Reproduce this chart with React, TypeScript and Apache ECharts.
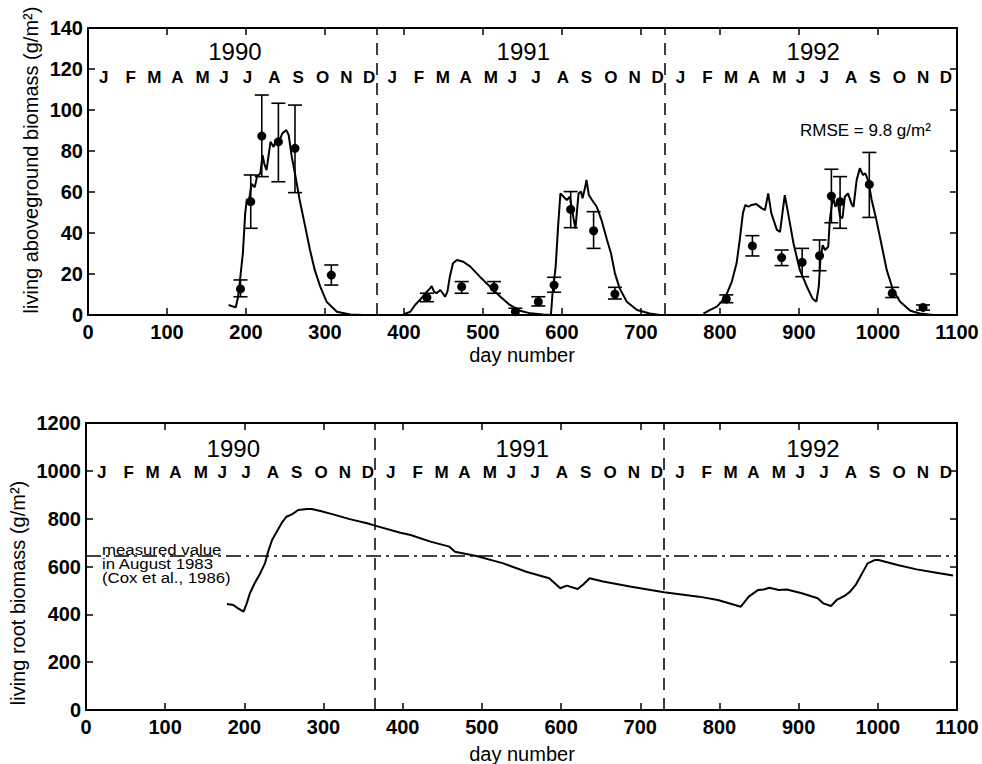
import React, { useEffect, useRef } from "react";
import * as echarts from "echarts";

const FONT = "'Liberation Sans', Arial, Helvetica, sans-serif";

// ---- calendar annotations ----
const MONTH_LETTERS = ["J", "F", "M", "A", "M", "J", "J", "A", "S", "O", "N", "D"];
const MONTH_DAY_IN_YEAR = [20, 54, 84, 113, 145, 172, 202, 236, 266, 297, 327, 356];
const YEAR_LABELS = ["1990", "1991", "1992"];
const YEAR_START_DAYS = [0, 365, 730];
const YEAR_LABEL_DAYS = [186, 551, 918];
const YEAR_BOUNDARY_DAYS = [365, 730];

// ---- aboveground biomass: model (day, g/m2) ----
const MODEL_AG_1990 = [
  [178, 4.9], [187, 3.7], [190, 8.9], [192, 15.5], [196, 30], [199, 49.6], [201, 56.4], [204, 56.3],
  [207, 64], [211, 62.3], [214, 67.5], [218, 69], [221, 78], [223, 74], [226, 70.7], [231, 84.5],
  [235, 82], [238, 85.4], [241, 83.7], [246, 88.6], [251, 90.2], [254, 87.8], [258, 77], [262, 69],
  [268, 56], [275, 43], [281, 31.7], [287, 22], [294, 13.8], [302, 6.5], [315, 1.6], [332, 0.2], [348, 0],
];
const MODEL_AG_1991 = [
  [399, 0.3], [408, 1.6], [414, 4.9], [420, 7.3], [427, 10.6], [433, 13], [435, 14.1], [438, 11.4],
  [441, 10.6], [446, 12.2], [449, 10.6], [452, 8.9], [455, 11.4], [458, 18.7], [462, 25.2], [467, 26.8],
  [475, 26], [484, 23.6], [496, 18.7], [509, 13.8], [522, 8.9], [534, 4.9], [547, 2.1], [560, 0.8],
  [576, 0.2], [586, 0], [588, 10.6], [592, 23.6], [595, 43], [598, 59.3], [602, 57.7], [606, 56.1],
  [610, 57.7], [615, 46.3], [617, 42.3], [621, 59.3], [624, 60.2], [626, 56.9], [629, 61.8], [631, 65.9],
  [634, 58.5], [638, 56.1], [644, 52.8], [650, 46.3], [657, 36.6], [662, 30.1], [667, 20.3], [673, 13],
  [682, 6.5], [695, 2.4], [711, 0.7], [724, 0],
];
const MODEL_AG_1992 = [
  [779, 0.7], [787, 2.4], [796, 4.1], [802, 6.5], [808, 9.8], [815, 16.3], [821, 25.2], [825, 36.6],
  [829, 49.6], [832, 53.7], [836, 52.8], [840, 53.7], [846, 54.1], [853, 52], [857, 51.2], [861, 59.3],
  [865, 49.6], [872, 41.5], [876, 40.6], [879, 49.6], [882, 58.5], [887, 48], [893, 35], [901, 22],
  [910, 13.8], [917, 8.1], [922, 6.5], [925, 13.8], [927, 26.8], [930, 34.1], [933, 31.7], [937, 33.3],
  [939, 46.3], [943, 57.7], [946, 52.8], [949, 55.3], [952, 48], [955, 47.2], [958, 57.7], [962, 59.3],
  [967, 53.7], [969, 52.8], [973, 65.9], [977, 71.6], [981, 68.3], [984, 69.1], [988, 65], [992, 56.1],
  [998, 46.3], [1005, 33.3], [1011, 22], [1019, 12.2], [1028, 6.5], [1041, 2.1], [1053, 0.7], [1070, 0],
];

// ---- aboveground biomass: observations ----
const OBS_DAY = [193, 206, 220, 241, 262, 308, 429, 473, 514, 541, 570, 590, 611, 640, 667, 808, 841, 878, 904, 926, 941, 952, 989, 1018, 1057];
const OBS_MEAN = [12.7, 55.3, 87.3, 84.5, 81.3, 19.5, 8.5, 13.8, 13.5, 1.6, 6.5, 14.6, 51.5, 41.1, 10.2, 7.8, 33.7, 28, 25.7, 28.9, 58, 55.3, 63.7, 10.6, 3.7];
const OBS_LOW = [8.9, 42.3, 67.5, 65, 59.7, 14.6, 6.5, 10.6, 10.6, 0, 4.4, 11.1, 42.6, 32.5, 7.8, 6, 28.8, 24.1, 18.7, 21.6, 45, 42.3, 47.6, 8.5, 2.4];
const OBS_HIGH = [17.1, 68.3, 107.3, 103.3, 102.4, 24.4, 10.6, 16.3, 16.3, 3.3, 8.9, 18.4, 60.2, 50.4, 13.5, 9.8, 38.7, 31.7, 32.5, 36.6, 71.1, 67.5, 79.3, 13.5, 4.9];

// ---- root biomass: model ----
const MODEL_ROOT = [
  [178, 443], [186, 439], [192, 425], [199, 411], [203, 446], [207, 488], [213, 530], [220, 571],
  [226, 613], [230, 662], [235, 711], [241, 746], [247, 781], [253, 808], [258, 815], [262, 822],
  [268, 836], [279, 840], [285, 840], [296, 832], [312, 818], [333, 798], [355, 781], [365, 771],
  [397, 741], [410, 732], [435, 704], [459, 683], [466, 662], [493, 644], [527, 613], [556, 578],
  [585, 551], [599, 509], [607, 520], [621, 506], [628, 525], [636, 551], [653, 537], [687, 516],
  [730, 492], [774, 474], [798, 460], [827, 432], [837, 474], [849, 502], [856, 504], [863, 511],
  [875, 502], [885, 504], [904, 488], [924, 467], [931, 446], [941, 435], [948, 460], [958, 477],
  [965, 495], [972, 523], [979, 564], [987, 613], [996, 627], [1001, 627], [1025, 606], [1049, 588],
  [1074, 574], [1095, 562],
];
const MEASURED_ROOT_1983 = 645;
const MEASURED_NOTE = "measured value\nin August 1983\n(Cox et al., 1986)";
const RMSE_TEXT = "RMSE = 9.8 g/m²";

const plainNumber = (v: number) => String(v);

function xAxis(gridIndex: number, position: string, showLabel: boolean) {
  return {
    type: "value",
    gridIndex,
    position,
    min: 0,
    max: 1100,
    interval: 100,
    axisLine: { show: true, onZero: false, lineStyle: { color: "#000", width: 2 } },
    axisTick: { show: true, inside: true, length: 7, lineStyle: { color: "#000", width: 1.5 } },
    axisLabel: {
      show: showLabel, color: "#000", fontSize: 20, fontWeight: "bold", fontFamily: FONT, margin: 7,
      hideOverlap: false, formatter: plainNumber,
    },
    splitLine: { show: false },
  };
}

function yAxis(gridIndex: number, position: string, showLabel: boolean, max: number, interval: number) {
  return {
    type: "value",
    gridIndex,
    position,
    min: 0,
    max,
    interval,
    axisLine: { show: true, onZero: false, lineStyle: { color: "#000", width: 2 } },
    axisTick: { show: true, inside: true, length: 7, lineStyle: { color: "#000", width: 1.5 } },
    axisLabel: {
      show: showLabel, color: "#000", fontSize: 20, fontWeight: "bold", fontFamily: FONT, margin: 5,
      hideOverlap: false, formatter: plainNumber,
    },
    splitLine: { show: false },
  };
}

function monthLabelSeries(xi: number, yi: number, yLevel: number) {
  const data: any[] = [];
  YEAR_START_DAYS.forEach((start) => {
    MONTH_DAY_IN_YEAR.forEach((d, i) => {
      data.push({ value: [start + d, yLevel], name: MONTH_LETTERS[i] });
    });
  });
  return {
    type: "scatter",
    xAxisIndex: xi,
    yAxisIndex: yi,
    symbolSize: 0,
    silent: true,
    z: 5,
    itemStyle: { color: "rgba(0,0,0,0)", opacity: 1 },
    label: {
      show: true, position: "inside", formatter: "{b}", color: "#000",
      fontSize: 17, fontWeight: "bold", fontFamily: FONT,
    },
    data,
  };
}

function yearLabelSeries(xi: number, yi: number, yLevel: number) {
  return {
    type: "scatter",
    xAxisIndex: xi,
    yAxisIndex: yi,
    symbolSize: 0,
    silent: true,
    z: 5,
    itemStyle: { color: "rgba(0,0,0,0)", opacity: 1 },
    label: {
      show: true, position: "inside", formatter: "{b}", color: "#000",
      fontSize: 24, fontWeight: "normal", fontFamily: FONT,
    },
    data: YEAR_LABELS.map((y, i) => ({ value: [YEAR_LABEL_DAYS[i], yLevel], name: y })),
  };
}

function modelLine(data: number[][], xi: number, yi: number, extra: any = {}) {
  return {
    type: "line",
    xAxisIndex: xi,
    yAxisIndex: yi,
    data,
    showSymbol: false,
    symbol: "none",
    smooth: false,
    lineStyle: { color: "#000", width: 2 },
    z: 3,
    ...extra,
  };
}

const boundaryMarkLine = {
  silent: true,
  symbol: "none",
  label: { show: false },
  lineStyle: { color: "#000", width: 1.5, type: [12, 8] },
  data: YEAR_BOUNDARY_DAYS.map((d) => ({ xAxis: d })),
};

export default function App() {
  const ref = useRef<HTMLDivElement>(null);

  useEffect(() => {
    if (!ref.current) return;
    const chart = echarts.init(ref.current, undefined, { renderer: "svg" });

    const errData = OBS_DAY.map((d, i) => [d, OBS_MEAN[i], OBS_LOW[i], OBS_HIGH[i]]);
    const obsPoints = OBS_DAY.map((d, i) => [d, OBS_MEAN[i]]);

    const option: any = {
      animation: false,
      backgroundColor: "#fff",
      grid: [
        { left: 88, top: 28, width: 869, height: 287, containLabel: false },
        { left: 86, top: 423, width: 871, height: 287, containLabel: false },
      ],
      xAxis: [
        xAxis(0, "bottom", true),
        xAxis(0, "top", false),
        xAxis(1, "bottom", true),
        xAxis(1, "top", false),
      ],
      yAxis: [
        yAxis(0, "left", true, 140, 20),
        yAxis(0, "right", false, 140, 20),
        yAxis(1, "left", true, 1200, 200),
        yAxis(1, "right", false, 1200, 200),
      ],
      series: [
        modelLine(MODEL_AG_1990, 0, 0, { markLine: boundaryMarkLine }),
        modelLine(MODEL_AG_1991, 0, 0),
        modelLine(MODEL_AG_1992, 0, 0),
        {
          type: "custom",
          xAxisIndex: 0,
          yAxisIndex: 0,
          z: 4,
          silent: true,
          data: errData,
          renderItem: (params: any, api: any) => {
            const x = api.value(0);
            const lo = api.coord([x, api.value(2)]);
            const hi = api.coord([x, api.value(3)]);
            const w = 7;
            const st = { stroke: "#000", lineWidth: 1.6 };
            return {
              type: "group",
              children: [
                { type: "line", shape: { x1: lo[0], y1: lo[1], x2: hi[0], y2: hi[1] }, style: st },
                { type: "line", shape: { x1: lo[0] - w, y1: lo[1], x2: lo[0] + w, y2: lo[1] }, style: st },
                { type: "line", shape: { x1: hi[0] - w, y1: hi[1], x2: hi[0] + w, y2: hi[1] }, style: st },
              ],
            };
          },
        },
        {
          type: "scatter",
          xAxisIndex: 0,
          yAxisIndex: 0,
          symbol: "circle",
          symbolSize: 9,
          itemStyle: { color: "#000", opacity: 1 },
          z: 5,
          silent: true,
          data: obsPoints,
        },
        monthLabelSeries(0, 0, 116),
        yearLabelSeries(0, 0, 128.5),
        modelLine(MODEL_ROOT, 2, 2, {
          markLine: {
            silent: true,
            symbol: "none",
            label: { show: false },
            lineStyle: { color: "#000", width: 1.5, type: [12, 8] },
            data: [
              ...YEAR_BOUNDARY_DAYS.map((d) => ({ xAxis: d })),
              { yAxis: MEASURED_ROOT_1983, lineStyle: { type: [15, 5, 3, 5], width: 1.5, color: "#000" } },
            ],
          },
        }),
        monthLabelSeries(2, 2, 995),
        yearLabelSeries(2, 2, 1094),
      ],
      graphic: [
        {
          type: "text", x: 31, y: 160, rotation: Math.PI / 2,
          style: {
            text: "living aboveground biomass (g/m²)", fill: "#000", fontSize: 20, fontFamily: FONT,
            textAlign: "center", textVerticalAlign: "middle",
          },
        },
        {
          type: "text", x: 18, y: 593, rotation: Math.PI / 2,
          style: {
            text: "living root biomass (g/m²)", fill: "#000", fontSize: 20, fontFamily: FONT,
            textAlign: "center", textVerticalAlign: "middle",
          },
        },
        {
          type: "text", x: 522, y: 355,
          style: { text: "day number", fill: "#000", fontSize: 20, fontFamily: FONT, textAlign: "center", textVerticalAlign: "middle" },
        },
        {
          type: "text", x: 522, y: 754,
          style: { text: "day number", fill: "#000", fontSize: 20, fontFamily: FONT, textAlign: "center", textVerticalAlign: "middle" },
        },
        {
          type: "text", x: 800, y: 130,
          style: { text: RMSE_TEXT, fill: "#000", fontSize: 17, fontFamily: FONT, textAlign: "left", textVerticalAlign: "middle" },
        },
        {
          type: "text", x: 102, y: 564, scaleX: 1.12,
          style: {
            text: MEASURED_NOTE, fill: "#000", fontSize: 15, lineHeight: 14, fontFamily: FONT,
            textAlign: "left", textVerticalAlign: "middle",
          },
        },
      ],
    };

    chart.setOption(option);
    return () => chart.dispose();
  }, []);

  return (
    <div
      ref={ref}
      style={{ position: "absolute", left: 0, top: 0, width: 982, height: 764, background: "#fff" }}
    />
  );
}
